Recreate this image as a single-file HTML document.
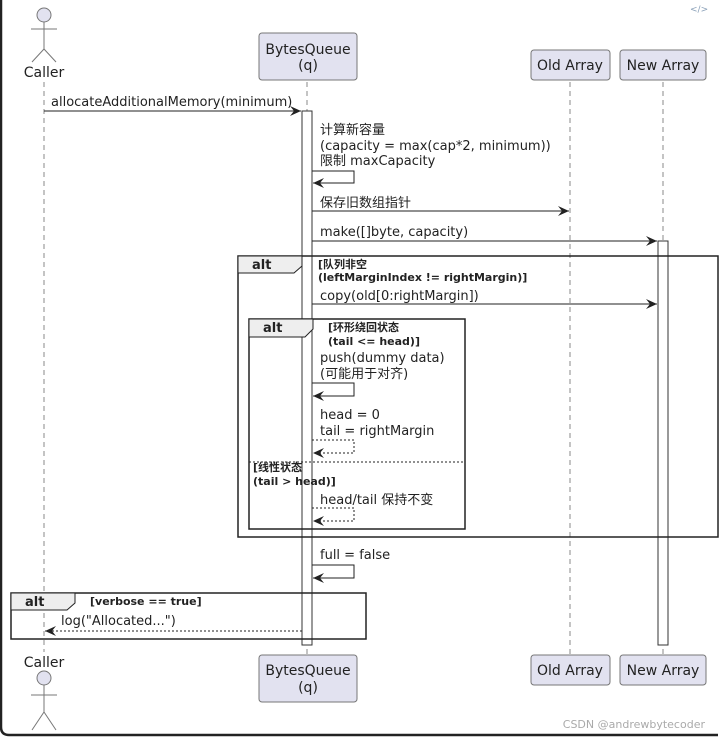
<!DOCTYPE html>
<html><head><meta charset="utf-8"><style>
html,body{margin:0;padding:0;background:#fff;}
svg{display:block;}
text{font-family:"DejaVu Sans","Noto Sans CJK SC",sans-serif;fill:#222;}
.m{font-size:13px;}
.b{font-size:11px;font-weight:bold;}
.h{font-size:14px;}
</style></head><body>
<svg width="720" height="737" viewBox="0 0 720 737" xmlns="http://www.w3.org/2000/svg">
<defs>
<marker id="a" markerWidth="12" markerHeight="10" refX="11" refY="5" orient="auto" markerUnits="userSpaceOnUse">
<path d="M0,0 L11,5 L0,10 L4,5 Z" fill="#222"/></marker>
</defs>
<path d="M1,0 L1,727 Q1,735 9,735 L718,735" fill="none" stroke="#222" stroke-width="2.5"/>
<text x="690" y="12" style="font-size:9px;fill:#8aa0b8">&lt;/&gt;</text>

<g stroke="#888" stroke-dasharray="5,4" stroke-width="1">
<line x1="44" y1="82" x2="44" y2="652"/>
<line x1="307" y1="82" x2="307" y2="655"/>
<line x1="570" y1="82" x2="570" y2="655"/>
<line x1="663" y1="82" x2="663" y2="655"/>
</g>

<g stroke="#777" fill="#e2e2f0" stroke-width="1">
<circle cx="44" cy="15" r="7"/>
<line x1="44" y1="22" x2="44" y2="49"/><line x1="31" y1="29" x2="57" y2="29"/>
<line x1="44" y1="49" x2="32" y2="62"/><line x1="44" y1="49" x2="56" y2="62"/>
<rect x="259" y="33" width="98" height="47" rx="3"/>
<rect x="531" y="50" width="79" height="30" rx="3"/>
<rect x="620" y="50" width="86" height="30" rx="3"/>
</g>
<text x="44" y="77" class="h" text-anchor="middle">Caller</text>
<text x="308" y="54" class="h" text-anchor="middle">BytesQueue</text>
<text x="308" y="70" class="h" text-anchor="middle">(q)</text>
<text x="570" y="70" class="h" text-anchor="middle">Old Array</text>
<text x="663" y="70" class="h" text-anchor="middle">New Array</text>

<g stroke="#777" fill="#e2e2f0" stroke-width="1">
<circle cx="44" cy="678" r="7"/>
<line x1="44" y1="685" x2="44" y2="712"/><line x1="31" y1="695" x2="57" y2="695"/>
<line x1="44" y1="712" x2="32" y2="730"/><line x1="44" y1="712" x2="56" y2="730"/>
<rect x="259" y="655" width="98" height="47" rx="3"/>
<rect x="531" y="655" width="79" height="30" rx="3"/>
<rect x="620" y="655" width="86" height="30" rx="3"/>
</g>
<text x="44" y="667" class="h" text-anchor="middle">Caller</text>
<text x="308" y="675" class="h" text-anchor="middle">BytesQueue</text>
<text x="308" y="692" class="h" text-anchor="middle">(q)</text>
<text x="570" y="675" class="h" text-anchor="middle">Old Array</text>
<text x="663" y="675" class="h" text-anchor="middle">New Array</text>

<rect x="302" y="111" width="10" height="534" fill="#fff" stroke="#333"/>
<rect x="658" y="241" width="10" height="404" fill="#fff" stroke="#333"/>

<g stroke="#222" stroke-width="1" fill="none">
<line x1="44" y1="111" x2="301" y2="111" marker-end="url(#a)"/>
<polyline points="312,171 354,171 354,183 313,183" marker-end="url(#a)"/>
<line x1="312" y1="211" x2="569" y2="211" marker-end="url(#a)"/>
<line x1="312" y1="241" x2="657" y2="241" marker-end="url(#a)"/>
<line x1="312" y1="304" x2="657" y2="304" marker-end="url(#a)"/>
<polyline points="312,383 354,383 354,396 313,396" marker-end="url(#a)"/>
<polyline points="312,440 354,440 354,453 313,453" stroke-dasharray="2,2" marker-end="url(#a)"/>
<polyline points="312,508 354,508 354,521 313,521" stroke-dasharray="2,2" marker-end="url(#a)"/>
<polyline points="312,565 354,565 354,578 313,578" marker-end="url(#a)"/>
<line x1="302" y1="631" x2="45" y2="631" stroke-dasharray="2,2" marker-end="url(#a)"/>
</g>

<text x="320" y="134" class="m">计算新容量</text>
<text x="320" y="150" class="m">(capacity = max(cap*2, minimum))</text>
<text x="320" y="165" class="m">限制 maxCapacity</text>
<text x="51" y="106" class="m">allocateAdditionalMemory(minimum)</text>
<text x="320" y="207" class="m">保存旧数组指针</text>
<text x="320" y="236" class="m">make([]byte, capacity)</text>
<text x="320" y="300" class="m">copy(old[0:rightMargin])</text>
<text x="320" y="362" class="m">push(dummy data)</text>
<text x="320" y="378" class="m">(可能用于对齐)</text>
<text x="320" y="419" class="m">head = 0</text>
<text x="320" y="435" class="m">tail = rightMargin</text>
<text x="320" y="504" class="m">head/tail 保持不变</text>
<text x="320" y="559" class="m">full = false</text>
<text x="61" y="625" class="m">log("Allocated...")</text>

<g stroke="#222" fill="none" stroke-width="1.5">
<rect x="238" y="256" width="480" height="281"/>
<rect x="249" y="319" width="216" height="210"/>
<rect x="11" y="593" width="355" height="46"/>
</g>
<g stroke="#222" fill="#eee" stroke-width="1">
<path d="M238,256 L302,256 L302,266 L294,273 L238,273 Z"/>
<path d="M249,319 L313,319 L313,329 L305,337 L249,337 Z"/>
<path d="M11,593 L75,593 L75,603 L67,610 L11,610 Z"/>
</g>
<line x1="249" y1="462" x2="465" y2="462" stroke="#222" stroke-dasharray="2,2"/>
<text x="252" y="269" style="font-size:13px;font-weight:bold">alt</text>
<text x="263" y="332" style="font-size:13px;font-weight:bold">alt</text>
<text x="25" y="606" style="font-size:13px;font-weight:bold">alt</text>
<text x="318" y="268" class="b">[队列非空</text>
<text x="318" y="281" class="b">(leftMarginIndex != rightMargin)]</text>
<text x="328" y="331" class="b">[环形绕回状态</text>
<text x="328" y="345" class="b">(tail &lt;= head)]</text>
<text x="253" y="471" class="b">[线性状态</text>
<text x="253" y="485" class="b">(tail &gt; head)]</text>
<text x="90" y="605" class="b">[verbose == true]</text>

<text x="705" y="728" text-anchor="end" style="font-size:11px;fill:#aaa">CSDN @andrewbytecoder</text>
</svg>
</body></html>
